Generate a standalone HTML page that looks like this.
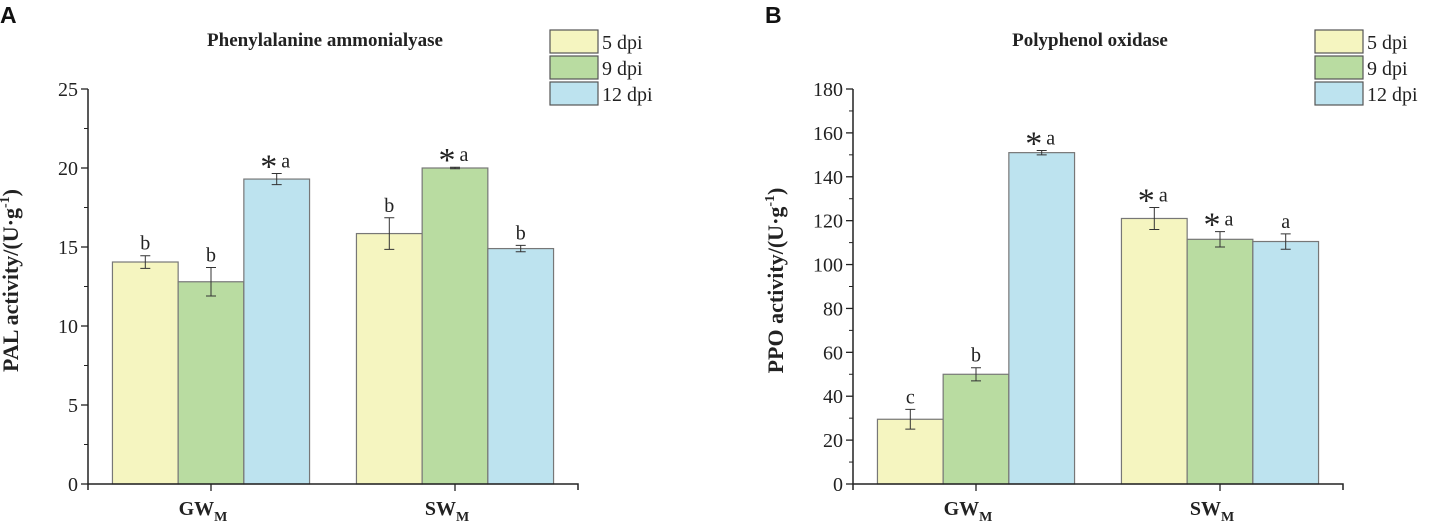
<!DOCTYPE html>
<html><head><meta charset="utf-8"><style>
body{margin:0;background:#fff;}
svg{display:block;font-family:"Liberation Serif",serif;}
</style></head><body>
<svg id="c" width="1441" height="522" xmlns="http://www.w3.org/2000/svg"></svg>
<script>
const categories=["GW","SW"];
const seriesNames=["5 dpi","9 dpi","12 dpi"];
const palValues=[[14.05,12.8,19.3],[15.85,20.0,14.9]];
const palErrors=[[0.4,0.9,0.35],[1.0,0.05,0.2]];
const palLetters=[["b","b","*a"],["b","*a","b"]];
const palTicks=[0,5,10,15,20,25];
const ppoValues=[[29.5,50,151],[121,111.5,110.5]];
const ppoErrors=[[4.5,3,1],[5,3.5,3.5]];
const ppoLetters=[["c","b","*a"],["*a","*a","a"]];
const ppoTicks=[0,20,40,60,80,100,120,140,160,180];
const colors=["#f5f5c0","#b9dca1","#bde3ef"];
const NS="http://www.w3.org/2000/svg";
const svg=document.getElementById('c');
function mk(t,a,p){const e=document.createElementNS(NS,t);for(const k in a)e.setAttribute(k,a[k]);(p||svg).appendChild(e);return e;}
function panel(o){
 const g=mk('g',{});
 
 
 const x0=o.x0,y0=484,yTop=89,ymax=o.ticks[o.ticks.length-1];
 const Y=v=>y0-(v/ymax)*(y0-yTop);
 const bw=65.7;
 const centers=[x0+123,x0+367];
 o.values.forEach((row,ci)=>row.forEach((v,si)=>{
  const x=centers[ci]-1.5*bw+si*bw;
  const r=mk('rect',{x:x,y:Y(v),width:bw,height:y0-Y(v),fill:colors[si],stroke:'#777','stroke-width':1.2},g);
  
  
  const cx=x+bw/2,e=o.errors[ci][si];
  const eb=mk('path',{d:`M${cx},${Y(v+e)}V${Y(v-e)}M${cx-5},${Y(v+e)}H${cx+5}M${cx-5},${Y(v-e)}H${cx+5}`,stroke:'#333','stroke-width':1,fill:'none'},g);
  
  
  const L=o.letters[ci][si];const ty=Y(v+e)-6;
  if(L[0]==='*'){
   const s=mk('text',{x:cx-8,y:ty+10,'font-size':34,'text-anchor':'middle',fill:'#222'},g);s.textContent='*';
   
   
   const t=mk('text',{x:cx+9,y:ty,'font-size':20,'text-anchor':'middle',fill:'#222'},g);t.textContent=L.slice(1);
   
   
  }else{
   const t=mk('text',{x:cx,y:ty,'font-size':20,'text-anchor':'middle',fill:'#222'},g);t.textContent=L;
   
   
  }
 }));
 mk('path',{d:`M${x0},${yTop}V${y0}H${x0+490}v6M${x0},${y0}v6`,stroke:'#222','stroke-width':1.5,fill:'none'},g);
 o.ticks.forEach((t,i)=>{
  mk('line',{x1:x0-7,x2:x0,y1:Y(t),y2:Y(t),stroke:'#222','stroke-width':1.3},g);
  if(i<o.ticks.length-1){const m=(t+o.ticks[i+1])/2;mk('line',{x1:x0-4,x2:x0,y1:Y(m),y2:Y(m),stroke:'#222','stroke-width':1},g);}
  const tl=mk('text',{x:x0-10,y:Y(t)+7,'font-size':20,'text-anchor':'end',fill:'#222'},g);tl.textContent=t;
  
  
 });
 centers.forEach((c,ci)=>{
  mk('line',{x1:c,x2:c,y1:y0,y2:y0+7,stroke:'#222','stroke-width':1.3},g);
  const t=mk('text',{x:c-8,y:y0+31,'font-size':20,'font-weight':'bold','text-anchor':'middle',fill:'#222'},g);
  t.innerHTML=categories[ci]+'<tspan dy="6" font-size="14">M</tspan>';
  
  
 });
 const yt=mk('text',{transform:`translate(${x0-70},${(y0+yTop)/2-6}) rotate(-90)`,'font-size':22,'font-weight':'bold','text-anchor':'middle',fill:'#222'},g);
 yt.innerHTML=o.ylab+'/(U·g<tspan dy="-9" font-size="14">-1</tspan><tspan dy="9">)</tspan>';
 
 
 const ti=mk('text',{x:o.titleX,y:46,'font-size':19,'font-weight':'bold','text-anchor':'middle',fill:'#222'},g);ti.textContent=o.title;
 
 
 const pl=mk('text',{x:o.x0-88,y:23,'font-size':23,'font-weight':'bold','font-family':'Liberation Sans,sans-serif',fill:'#111'},g);pl.textContent=o.label;
 
 
 seriesNames.forEach((n,i)=>{
  const lg=mk('g',{},g);
  
  
  mk('rect',{x:x0+462,y:30+i*26,width:48,height:23,fill:colors[i],stroke:'#555','stroke-width':1.2},lg);
  const t=mk('text',{x:x0+514,y:49+i*26,'font-size':20,fill:'#222'},lg);t.textContent=n;
 });
}
panel({name:'panel-a-pal',x0:88,values:palValues,errors:palErrors,letters:palLetters,ticks:palTicks,ylab:'PAL activity',title:'Phenylalanine ammonialyase',titleX:325,label:'A'});
panel({name:'panel-b-ppo',x0:853,values:ppoValues,errors:ppoErrors,letters:ppoLetters,ticks:ppoTicks,ylab:'PPO activity',title:'Polyphenol oxidase',titleX:1090,label:'B'});
</script>
</body></html>
